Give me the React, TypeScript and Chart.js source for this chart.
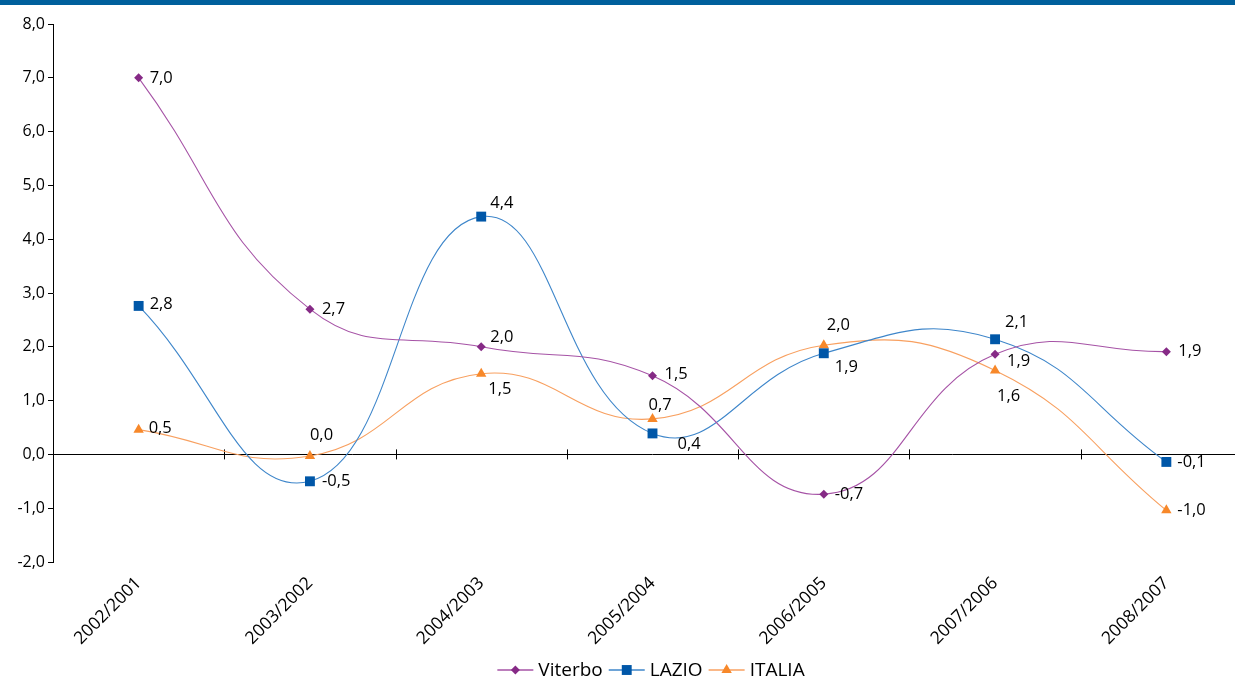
import React, { useEffect, useRef } from "react";
import { Chart, registerables } from "chart.js";

Chart.register(...registerables);

const categories = ["2002/2001", "2003/2002", "2004/2003", "2005/2004", "2006/2005", "2007/2006", "2008/2007"];
const viterbo = [7.0, 2.7, 2.0, 1.46, -0.74, 1.86, 1.91];
const lazio = [2.76, -0.5, 4.42, 0.39, 1.88, 2.14, -0.14];
const italia = [0.46, -0.03, 1.5, 0.66, 2.03, 1.56, -1.04];
const seriesNames = ["Viterbo", "LAZIO", "ITALIA"];
const yMin = -2;
const yMax = 8;

// label offsets (style only)
const labelOffsets = [
  [[11, 0], [12, 0], [9, -10], [12, -2], [11, 0], [12, 7], [12, 0]],
  [[11, -2], [12, 0], [9, -13], [25, 11], [11, 14], [10, -17], [11, 0]],
  [[10, -1], [0, -21], [7, 16], [-4, -14], [3, -20], [2, 26], [11, 0]],
];

const FONT = "'Open Sans', sans-serif";

const fmt = (v: number) => (Math.abs(v) < 0.05 ? 0 : v).toFixed(1).replace(".", ",");

const styles = [
  { line: "#A653A6", point: "#862A86", pointStyle: "rectRot", radius: 4.5 },
  { line: "#3E86CA", point: "#0057A8", pointStyle: "rect", radius: 7 },
  { line: "#F8A060", point: "#F7882A", pointStyle: "triangle", radius: 6 },
];

function drawMarker(ctx: CanvasRenderingContext2D, style: string, r: number, x: number, y: number) {
  ctx.beginPath();
  if (style === "rect") {
    const s = Math.SQRT1_2 * r;
    ctx.rect(x - s, y - s, 2 * s, 2 * s);
  } else if (style === "rectRot") {
    ctx.moveTo(x - r, y);
    ctx.lineTo(x, y - r);
    ctx.lineTo(x + r, y);
    ctx.lineTo(x, y + r);
    ctx.closePath();
  } else {
    let rad = 0;
    ctx.moveTo(x + Math.sin(rad) * r, y - Math.cos(rad) * r);
    rad += (2 * Math.PI) / 3;
    ctx.lineTo(x + Math.sin(rad) * r, y - Math.cos(rad) * r);
    rad += (2 * Math.PI) / 3;
    ctx.lineTo(x + Math.sin(rad) * r, y - Math.cos(rad) * r);
    ctx.closePath();
  }
  ctx.fill();
}

const extrasPlugin = {
  id: "extras",
  beforeDatasetsDraw(chart: any) {
    const { ctx, chartArea, scales } = chart;
    const y0 = scales.y.getPixelForValue(0);
    ctx.save();
    ctx.strokeStyle = "#000";
    ctx.lineWidth = 1;
    ctx.beginPath();
    ctx.moveTo(chartArea.left, Math.round(y0) + 0.5);
    ctx.lineTo(chartArea.right, Math.round(y0) + 0.5);
    for (let i = 0; i < categories.length; i++) {
      const a = scales.x.getPixelForValue(i);
      const b = i + 1 < categories.length ? scales.x.getPixelForValue(i + 1) : chartArea.right + (chartArea.right - a);
      const x = Math.round((a + b) / 2) + 0.5;
      ctx.moveTo(x, y0 - 5);
      ctx.lineTo(x, y0 + 5);
    }
    ctx.stroke();
    ctx.restore();
  },
  afterDatasetsDraw(chart: any) {
    const { ctx } = chart;
    ctx.save();
    ctx.fillStyle = "#000";
    ctx.font = `16.5px ${FONT}`;
    ctx.textAlign = "left";
    ctx.textBaseline = "middle";
    chart.data.datasets.forEach((ds: any, di: number) => {
      const meta = chart.getDatasetMeta(di);
      meta.data.forEach((pt: any, i: number) => {
        const [dx, dy] = labelOffsets[di][i];
        ctx.fillText(fmt(ds.data[i]), pt.x + dx, pt.y + dy);
      });
    });
    ctx.restore();
  },
  afterDraw(chart: any) {
    const { ctx } = chart;
    ctx.save();
    ctx.font = `19px ${FONT}`;
    ctx.textBaseline = "middle";
    const lineW = 36;
    const gapA = 5;
    const gapB = 6;
    const widths = seriesNames.map((n) => lineW + gapA + ctx.measureText(n).width + gapB);
    const total = widths.reduce((a, b) => a + b, 0) - gapB;
    let x = 651 - total / 2;
    const y = 670;
    seriesNames.forEach((n, i) => {
      const s = styles[i];
      ctx.strokeStyle = s.line;
      ctx.lineWidth = 1.5;
      ctx.beginPath();
      ctx.moveTo(x, y);
      ctx.lineTo(x + lineW, y);
      ctx.stroke();
      ctx.fillStyle = s.point;
      drawMarker(ctx, s.pointStyle, s.radius, x + lineW / 2, y);
      ctx.fillStyle = "#000";
      ctx.fillText(n, x + lineW + gapA, y + 1);
      x += widths[i];
    });
    ctx.restore();
  },
};

export default function App() {
  const ref = useRef<HTMLCanvasElement | null>(null);
  useEffect(() => {
    if (!ref.current) return;
    const data = [viterbo, lazio, italia];
    const chart = new Chart(ref.current, {
      type: "line",
      data: {
        labels: categories,
        datasets: seriesNames.map((name, i) => ({
          label: name,
          data: data[i],
          borderColor: styles[i].line,
          backgroundColor: styles[i].point,
          borderWidth: 1.1,
          tension: 0.45,
          pointStyle: styles[i].pointStyle as any,
          pointRadius: styles[i].radius,
          pointBackgroundColor: styles[i].point,
          pointBorderColor: styles[i].point,
          pointBorderWidth: 0,
          fill: false,
        })),
      },
      options: {
        responsive: false,
        animation: false,
        layout: { padding: { top: 24, left: 0, right: 0, bottom: 0 } },
        plugins: { legend: { display: false }, tooltip: { enabled: false } },
        scales: {
          x: {
            offset: true,
            grid: { display: false },
            border: { display: false },
            ticks: {
              color: "#000",
              font: { family: FONT, size: 17.5 },
              maxRotation: 45,
              minRotation: 45,
              autoSkip: false,
              padding: 3,
            },
            afterFit: (scale: any) => {
              scale.height = 115;
            },
          },
          y: {
            min: yMin,
            max: yMax,
            grid: { drawOnChartArea: false, color: "#000", tickLength: 5 },
            border: { display: true, color: "#000", width: 1 },
            ticks: {
              stepSize: 1,
              color: "#000",
              padding: 3,
              font: { family: FONT, size: 16 },
              callback: (v: any) => Number(v).toFixed(1).replace(".", ","),
            },
            afterFit: (scale: any) => {
              scale.width = 53;
            },
          },
        },
      },
      plugins: [extrasPlugin],
    });
    return () => chart.destroy();
  }, []);
  return (
    <div style={{ position: "fixed", left: 0, top: 0, width: 1235, height: 677, overflow: "hidden", background: "#fff" }}>
      <div style={{ position: "absolute", left: 0, top: 0, width: 1235, height: 5, background: "#00609C", zIndex: 1 }} />
      <canvas ref={ref} width={1259} height={677} style={{ display: "block" }} />
    </div>
  );
}
